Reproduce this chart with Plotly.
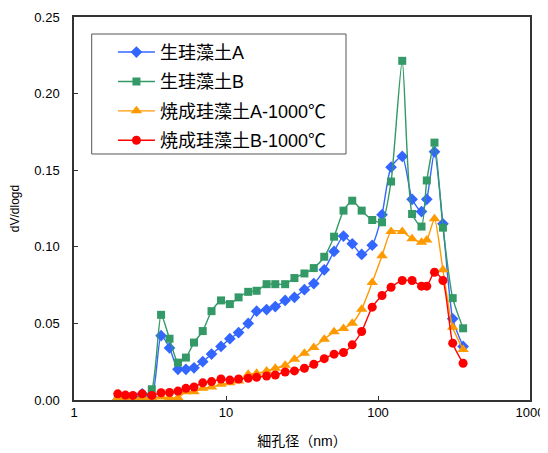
import plotly.graph_objects as go

pore_nm = [1.94, 2.18, 2.44, 2.81, 3.25, 3.74, 4.25, 4.83, 5.45, 6.16, 7.03, 8.03, 9.27,
           10.6, 12.1, 14.0, 15.9, 18.5, 21.1, 24.5, 28.2, 32.8, 37.8, 44.3, 51.4, 59.3,
           67.7, 78.1, 91.6, 106.3, 121.9, 144.4, 167.6, 193.3, 209.4, 235.3, 267.4, 310, 363]

raw_A = [0.000, 0.000, 0.000, 0.004, 0.002, 0.042, 0.034, 0.020, 0.020, 0.021, 0.025, 0.030,
         0.035, 0.040, 0.044, 0.050, 0.058, 0.059, 0.061, 0.065, 0.067, 0.072, 0.076, 0.085,
         0.097, 0.107, 0.102, 0.095, 0.101, 0.121, 0.152, 0.159, 0.131, 0.123, 0.131, 0.162,
         0.115, 0.053, 0.035]

raw_B = [0.000, 0.000, 0.000, 0.002, 0.007, 0.0556, 0.040, 0.0244, 0.0277, 0.0375, 0.045,
         0.058, 0.065, 0.0626, 0.067, 0.0706, 0.0713, 0.0756, 0.0756, 0.0756, 0.0796, 0.0826,
         0.0861, 0.0935, 0.1066, 0.1236, 0.1301, 0.1236, 0.1175, 0.116, 0.1426, 0.2214,
         0.1214, 0.1132, 0.1433, 0.168, 0.1125, 0.0665, 0.0468]

fired_A = [0.0015, 0.0015, 0.001, 0.0015, 0.0015, 0.002, 0.0015, 0.0015, 0.0054, 0.0054,
           0.0076, 0.0085, 0.0102, 0.0113, 0.0124, 0.0168, 0.0174, 0.019, 0.0207, 0.0227,
           0.0266, 0.0305, 0.0342, 0.0397, 0.0445, 0.0467, 0.0501, 0.0593, 0.0767, 0.0942,
           0.110, 0.110, 0.1053, 0.103, 0.1045, 0.1183, 0.085, 0.0475, 0.033]

fired_B = [0.004, 0.0032, 0.003, 0.004, 0.003, 0.0047, 0.0049, 0.0058, 0.0076, 0.0085,
           0.0112, 0.012, 0.0137, 0.013, 0.0137, 0.0142, 0.0148, 0.0157, 0.0163, 0.0183,
           0.019, 0.0207, 0.0233, 0.027, 0.0299, 0.031, 0.036, 0.0447, 0.0606, 0.0682,
           0.0736, 0.078, 0.078, 0.0743, 0.0743, 0.0834, 0.078, 0.0371, 0.024]

names = ["生珪藻土A", "生珪藻土B", "焼成珪藻土A-1000℃", "焼成珪藻土B-1000℃"]
colors = ["#3366FF", "#339966", "#FF9900", "#FF0000"]
symbols = ["diamond", "square", "triangle-up", "circle"]
sizes = [9, 8, 10, 9]
series = [raw_A, raw_B, fired_A, fired_B]

x_tickvals = [1, 10, 100, 1000]
x_ticktext = ["1", "10", "100", "1000"]

fig = go.Figure()
for i, (nm, col, sym, sz, ys) in enumerate(zip(names, colors, symbols, sizes, series)):
    fig.add_trace(go.Scatter(
        x=pore_nm, y=ys, name=nm, mode="lines+markers",
        line=dict(color=col, width=1.4, shape="spline", smoothing=0.6),
        marker=dict(symbol=sym, size=sz, color=col),
        legendgroup=f"g{i}",
    ))

font_family = "Liberation Sans, Arial, Noto Sans CJK JP, sans-serif"

# legend frame
fig.add_shape(type="rect", xref="paper", yref="paper",
              x0=0.0388, x1=0.5965, y0=0.6423, y1=0.9556,
              line=dict(color="#555555", width=1), fillcolor="white", layer="above")

fig.update_layout(
    width=548, height=453,
    margin=dict(l=66, r=26, t=9, b=61),
    paper_bgcolor="white", plot_bgcolor="white",
    font=dict(family=font_family, color="black", size=13),
    showlegend=True,
    legend=dict(
        x=0.0854, y=0.956, xanchor="left", yanchor="top",
        bgcolor="rgba(0,0,0,0)", borderwidth=0,
        font=dict(size=18, family=font_family),
        tracegroupgap=3,
        itemwidth=37,
    ),
    xaxis=dict(
        type="log", range=[0, 3], automargin=False,
        tickvals=x_tickvals, ticktext=x_ticktext,
        ticks="inside", ticklen=4, tickcolor="#333",
        showline=True, linecolor="#333", linewidth=1.5, mirror=True,
        showgrid=False, zeroline=False,
        title=dict(text="細孔径（nm）", font=dict(size=14), standoff=17),
        tickfont=dict(size=13),
    ),
    yaxis=dict(
        range=[0, 0.25], dtick=0.05, tickformat=".2f", automargin=False,
        ticks="inside", ticklen=4, tickcolor="#333",
        ticklabelstandoff=10,
        showline=True, linecolor="#333", linewidth=1.5, mirror=True,
        showgrid=False, zeroline=False,
        title=dict(text="dV/dlogd", font=dict(size=12), standoff=14),
        tickfont=dict(size=13),
    ),
)

fig.write_html("out.html")
